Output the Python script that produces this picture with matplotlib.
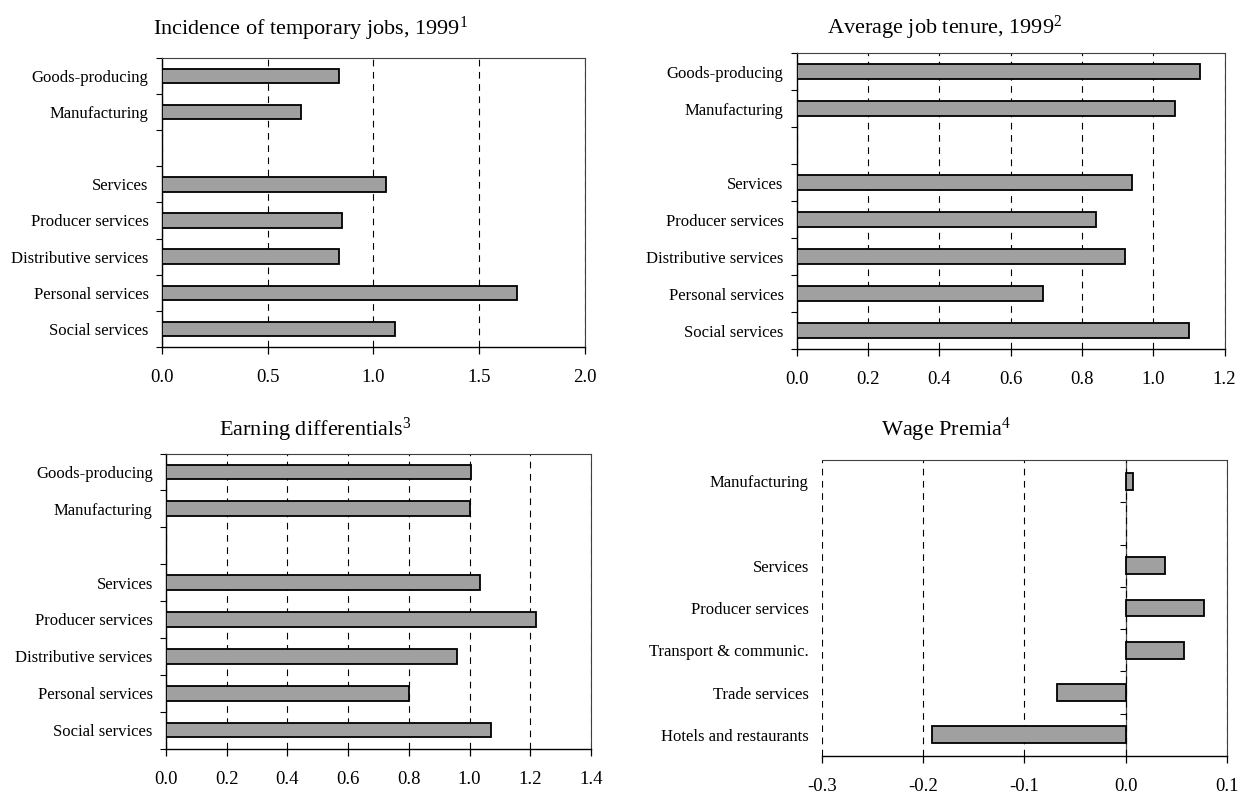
"""
Sector comparison panels: temporary jobs, tenure, earnings, wage premia
"""

import numpy as np
import matplotlib
matplotlib.use('Agg')
import matplotlib.pyplot as plt

plt.rcParams['font.family'] = 'Liberation Serif'
plt.rcParams['mathtext.fontset'] = 'custom'
plt.rcParams['mathtext.rm'] = 'Liberation Serif'
plt.rcParams['mathtext.it'] = 'Liberation Serif:italic'
plt.rcParams['mathtext.default'] = 'regular'
plt.rcParams['axes.unicode_minus'] = False

# Sector rows (empty string = spacer row between the two groups)
sectors = ['Goods-producing', 'Manufacturing', '', 'Services', 'Producer services',
           'Distributive services', 'Personal services', 'Social services']
temp_jobs = [0.84, 0.66, None, 1.06, 0.85, 0.84, 1.68, 1.10]
job_tenure = [1.13, 1.06, None, 0.94, 0.84, 0.92, 0.69, 1.10]
earnings = [1.005, 1.00, None, 1.035, 1.22, 0.96, 0.80, 1.07]

premia_sectors = ['Manufacturing', '', 'Services', 'Producer services',
                  'Transport & communic.', 'Trade services', 'Hotels and restaurants']
wage_premia = [0.007, None, 0.039, 0.078, 0.058, -0.068, -0.191]

W, H = 1239, 795
fig = plt.figure(figsize=(W / 100, H / 100), dpi=100)
fig.patch.set_facecolor('white')

BAR_COLOR = '#a0a0a0'
DASH = (0, (6, 5))


def panel(rect, labels, values, xticks, title, title_x, title_y, zero_axis=False):
    ax = fig.add_axes(rect)
    pos = np.arange(len(labels))
    keep = [i for i, lab in enumerate(labels) if lab]

    ax.barh([pos[i] for i in keep], [values[i] for i in keep], height=0.4,
            color=BAR_COLOR, edgecolor='black', linewidth=1.3, zorder=3)

    ax.set_xlim(xticks[0], xticks[-1])
    ax.set_ylim(len(labels) - 0.5, -0.5)
    ax.set_xticks(xticks)
    ax.set_xticklabels([f'{t:.1f}' for t in xticks])
    ax.set_yticks(pos)
    ax.set_yticklabels(labels)

    ax.tick_params(axis='y', which='major', length=0, pad=9.5, labelsize=12)
    ax.tick_params(axis='x', direction='out', length=5, width=0.9, pad=11, labelsize=13.5)
    ax.xaxis.grid(True, linestyle=DASH, color='black', linewidth=0.8)

    ax.spines['bottom'].set_color('black')
    ax.spines['bottom'].set_linewidth(1.0)
    for side in ['top', 'right']:
        ax.spines[side].set_color('#404040')
        ax.spines[side].set_linewidth(0.8)

    bounds = np.arange(len(labels) + 1) - 0.5
    if zero_axis:
        # category axis crosses at x = 0, labels stay at the low side
        ax.spines['left'].set_visible(False)
        sec = ax.secondary_yaxis(0, transform=ax.transData)
        sec.set_yticks(bounds[1:-1])
        sec.set_yticklabels([])
        sec.tick_params(length=4, width=0.8, direction='out', color='black')
        for s in sec.spines.values():
            s.set_color('#505050')
            s.set_linewidth(0.9)
    else:
        ax.spines['left'].set_color('black')
        ax.spines['left'].set_linewidth(1.0)
        ax.set_yticks(bounds, minor=True)
        ax.tick_params(axis='y', which='minor', length=4, width=0.8, direction='out')

    fig.text(title_x / W, 1 - title_y / H, title, ha='center', va='baseline', fontsize=16)
    return ax


# Figure: four panels
panel([161.7 / W, 1 - 347 / H, (585 - 161.7) / W, (347 - 57.7) / H],
      sectors, temp_jobs, [0.0, 0.5, 1.0, 1.5, 2.0],
      'Incidence of temporary jobs, 1999$^{1}$', 310, 35)

panel([796.7 / W, 1 - 349 / H, (1224.5 - 796.7) / W, (349 - 53.3) / H],
      sectors, job_tenure, [0.0, 0.2, 0.4, 0.6, 0.8, 1.0, 1.2],
      'Average job tenure, 1999$^{2}$', 945, 34)

panel([166 / W, 1 - 748.5 / H, (591 - 166) / W, (748.5 - 453.5) / H],
      sectors, earnings, [0.0, 0.2, 0.4, 0.6, 0.8, 1.0, 1.2, 1.4],
      'Earning differentials$^{3}$', 315, 436)

panel([822 / W, 1 - 756 / H, (1226.7 - 822) / W, (756 - 460) / H],
      premia_sectors, wage_premia, [-0.3, -0.2, -0.1, 0.0, 0.1],
      'Wage Premia$^{4}$', 946, 436, zero_axis=True)

plt.savefig('out.png', dpi=100)
print("Saved: out.png")
